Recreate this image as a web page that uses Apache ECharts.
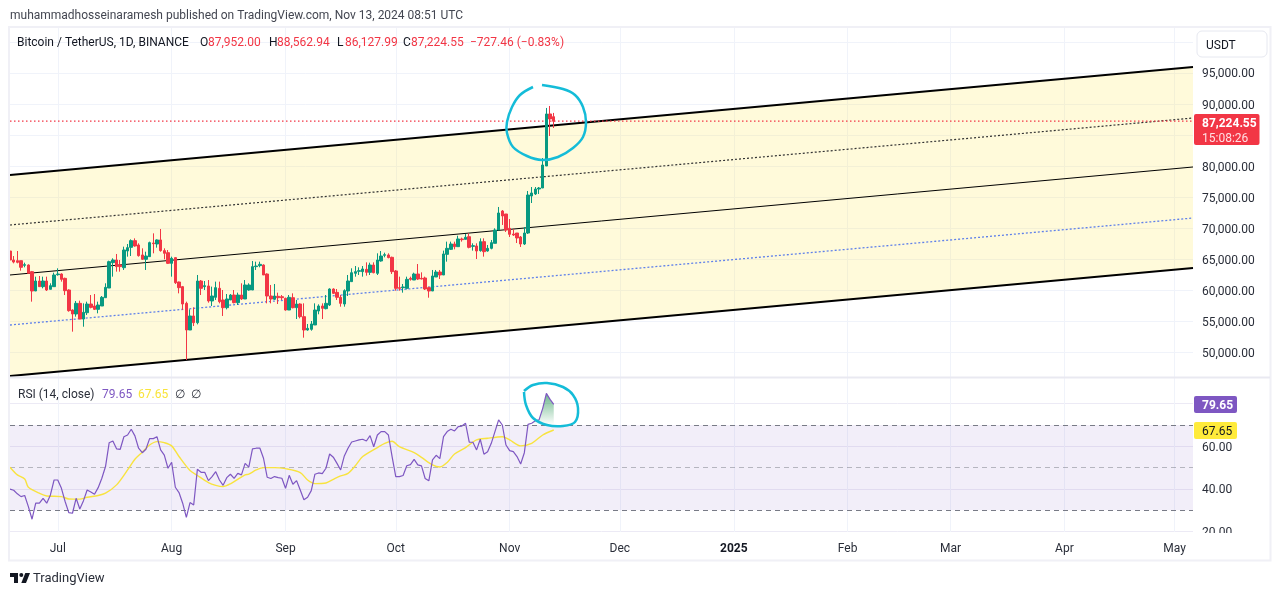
<!DOCTYPE html>
<html><head><meta charset="utf-8">
<style>html,body{margin:0;padding:0;background:#fff}#c{width:1281px;height:596px}</style>
<script src="https://cdn.jsdelivr.net/npm/echarts@6/dist/echarts.min.js"></script>
</head><body><div id="c"></div>
<script>
// ---------- data ----------
const firstDay = '2024-06-18';
const dayCount = 323;
const opens = [66290,64840,64730,64730,63980,64030,62960,59840,61450,60540,
61450,60110,60540,62470,62580,61880,60000,56770,56130,57850,
55320,56340,57740,57420,56880,57420,58760,60320,64410,64840,
64030,63600,66290,66880,67960,67260,65650,64950,65380,67580,
67420,68070,66350,66020,64300,65220,61290,60540,57850,53550,
55810,54730,61450,60540,60650,58230,58820,60270,58390,57150,
58390,59190,57960,59190,58550,60000,60000,63770,63930,64030,
62580,59030,58500,58980,58920,58660,56770,58760,57150,57740,
55700,53550,53660,54360,56610,57420,56990,57580,60160,59620,
58820,57740,59840,61350,62690,63010,62960,63330,62850,64030,
62690,64680,65590,65650,65270,63070,60380,60380,60270,61880,
61610,62580,61880,61940,60380,59840,62100,62900,62420,65750,
66560,67420,66990,68230,68170,68600,67040,67100,66350,67800,
66290,66720,67530,69680,72740,72260,69950,69030,69190,68550,
67420,69190,75160,75490,76290,76450,80000,88390,87952];
const closes = [64840,64510,64460,63660,64090,62690,59840,61450,60540,61450,
60000,60700,62420,62580,61720,59890,56670,56130,57850,55320,
56400,57740,57200,56880,57580,58820,60430,64570,64840,63770,
63770,66450,66830,67960,67100,65540,64950,65480,67640,67470,
68070,66350,65915,64300,65110,61180,60380,57740,53550,55810,
54730,61450,60270,60700,58230,59030,60380,58120,57150,58550,
59190,57960,59190,58550,60810,60810,63770,63870,64140,62420,
59030,58550,59030,58760,58760,56770,58820,57150,57740,55700,
53550,53820,54520,56770,57420,57040,57850,60160,59460,58820,
57850,59890,61450,62790,62960,63120,63390,62850,64030,62790,
64840,65480,65700,65220,62960,60270,60270,60490,61720,61720,
62580,61770,61770,60160,59840,62260,62900,62420,65810,66720,
67420,66990,68230,68120,68500,66880,67150,66290,67800,66180,
66720,67640,69680,72420,71940,69680,68980,68870,68390,67420,
69190,75320,75650,76290,76450,80160,88390,87580,87224.55];
const lows = [64730,64300,64300,63120,63660,62690,58120,59840,60540,60270,
59840,60110,60540,62310,61350,59190,56500,53280,55700,55320,
54080,55970,57040,56770,56240,57420,58760,60320,62150,62960,
62960,63230,65380,65480,66990,65380,64840,63230,65380,65915,
66830,66180,64950,64190,62150,60970,59460,56770,48710,53550,
54190,54460,59190,60000,57960,57420,58390,57850,55810,56880,
58390,57850,57580,58390,58550,59890,60000,63230,63660,62420,
57850,57850,58390,57740,58390,56670,56770,57040,55320,55430,
52310,53440,53440,54360,56080,55320,56880,57420,59350,58390,
57310,57310,59030,61350,62150,62420,62150,62310,62420,62690,
62420,64570,65270,65110,62580,59890,59890,59570,60110,61510,
61610,61610,61720,60000,58760,59840,62100,61770,62420,64570,
66450,66560,66990,67800,68170,66720,66350,65000,66180,65380,
66180,66560,67530,69680,70490,69360,68550,68710,67580,66940,
67260,69030,74030,75320,75490,76450,80000,84840,86127.99];
const highs = [66560,65480,66290,64730,64410,64140,63070,62150,62260,62150,
62150,61080,62790,63500,62690,61990,60110,56880,58230,58280,
57850,58120,59190,59350,58120,59030,61080,64730,65110,65810,
64840,66990,67420,68170,68330,67530,66720,66180,67800,69140,
68170,69840,66720,66450,65380,65270,61350,60650,58120,56880,
57200,62420,61610,61450,61610,60540,61350,61350,60000,59350,
59350,60000,59570,61080,61610,61080,64680,64570,64570,64140,
62690,60810,60970,59570,59190,58760,59190,59460,58390,57850,
57850,54520,55000,57850,57690,57850,59190,60270,60270,60160,
59190,60110,62420,63500,63870,63660,63870,64460,64410,64460,
65915,66290,66020,65915,65380,63230,62150,60970,62150,62150,
62790,64190,62850,62150,60540,63230,63230,63230,66350,67800,
67800,67800,68760,68440,69030,69140,67530,67530,68330,68330,
67260,68070,69950,73390,72900,72260,71450,69840,69190,68710,
70160,75970,76610,76610,76610,81290,89360,89680,88562.94];
const rsi = [39.9,39.4,37.7,36.4,36.9,31.7,25.8,33.3,33.3,35.6,
33.3,37.2,44.2,44.2,40.3,34.1,28.9,28.6,35.6,30.6,
34.5,39.5,38.6,37.5,40.6,45,50.5,61.7,62.5,58.8,
58.6,64.5,65.3,68,64.9,59.1,57,58.6,63.6,63.6,
64.5,58.3,55.9,49.7,52.5,40.8,38.3,33.3,26.7,33.6,
32.5,49.2,47.8,47.8,43.9,45.8,48.1,44.2,41.7,45.3,
46.9,45,47.3,46.6,52,50.2,58.8,59.1,59.2,54.4,
45.5,44.9,45.8,45.3,45,40.3,46.4,42.2,43.9,39.5,
34.9,36.1,39.2,46.9,47.5,47.2,49.7,56.4,54.9,52,
48.9,55.5,59.1,62,62.5,63,63.3,62.5,65,59.8,
65.3,66.9,66.9,65.3,55.2,45.8,45.8,46.3,50.9,51.4,
53.9,51.3,50.8,44.9,43.8,53.6,55.8,54.2,64.5,66.9,
68,67.2,69.2,69.5,70.8,62,61.9,58.3,63.3,56.3,
57.4,61.4,66.9,72.4,70,60.6,58,57.5,55.2,51.7,
57,70.3,70.8,72,72.4,77.8,84.8,82,79.65];
const rsiMaDays = [0,2,4,5,8,10,14,16,19,21,24,26,29,32,34,36,38,40,42,44,46,49,51,54,56,58,60,64,65,67,69,72,75,79,81,83,86,88,90,92,94,96,100,102,104,106,110,112,115,117,119,121,124,127,130,134,136,139,142,145,148];
const rsiMaValues = [50.2,46.6,44.7,40.8,38,36.7,36.4,35.3,35.2,36.1,36.9,38,41.9,48.9,53.9,57.2,60.6,62.2,61.7,60.2,55.2,48.6,46.3,43,41.7,41.1,42.4,46.6,46.9,48.9,50,50,49.5,47.7,44.2,42.5,42.8,44.5,46.1,47.3,50.9,55.2,59.4,61.4,62.4,59.8,57,54.8,51.3,50.3,52.4,56.4,59.4,63,63.8,64.5,63,60.2,61.4,65.3,67.65];
const channelTop = [78550, 95970];
const channelUpperQuarter = [70485, 87740];
const channelMiddle = [62420, 79840];
const channelLowerQuarter = [54355, 71610];
const channelBottom = [46130, 63550];
const lastPrice = 87224.55;
const priceTicks = [50000,55000,60000,65000,70000,75000,80000,85000,90000,95000,100000];
const priceTicksHidden = [85000,100000];
const rsiTicks = [20,40,60,80];
const rsiBands = {upper:70, middle:50, lower:30};
const monthNames = ['Jan','Feb','Mar','Apr','May','Jun','Jul','Aug','Sep','Oct','Nov','Dec'];

// ---------- derived ----------
const categories = [];
{ const t0 = Date.parse(firstDay+'T00:00:00Z');
  for (let i=0;i<dayCount;i++) categories.push(new Date(t0+i*86400000).toISOString().slice(0,10)); }
const lastIdx = dayCount-1;
const isMonthStart = (i)=>categories[i] && categories[i].slice(8)==='01';
const candles = opens.map((o,i)=>[o,closes[i],lows[i],highs[i]]);
const rsiMa = rsi.map(()=>null);
rsiMaDays.forEach((d,i)=>{rsiMa[d]=rsiMaValues[i];});
const endPoints = (pair)=>[[0,pair[0]],[lastIdx,pair[1]]];
// last run of RSI above the upper band
let runStart = rsi.length-1;
while (runStart>0 && rsi[runStart-1]>rsiBands.upper) runStart--;
const obRows = rsi.map((v,i)=>[i,v]).slice(runStart);

const FONT='Roboto, sans-serif';
const channelLine=(name,pair,color,width,type)=>({name,type:'line',data:endPoints(pair),showSymbol:false,silent:true,z:3,
  lineStyle:{color,width,type},xAxisIndex:0,yAxisIndex:0,clip:true});
const xCommon=(grid,showLabel)=>({type:'category',gridIndex:grid,data:categories,boundaryGap:false,
  axisLine:{show:false},axisTick:{show:false},
  splitLine:{show:true,interval:(i)=>isMonthStart(i),lineStyle:{color:'#f0f3fa',width:1}},
  axisLabel:{show:showLabel,interval:(i)=>isMonthStart(i),hideOverlap:false,margin:11,
    fontFamily:FONT,fontSize:12,color:'#2a2e39',
    formatter:(v)=>{const d=new Date(v+'T00:00:00Z');
      return d.getUTCMonth()===0?'{b|'+d.getUTCFullYear()+'}':monthNames[d.getUTCMonth()];},
    rich:{b:{fontWeight:'bold',fontFamily:FONT,fontSize:12,color:'#131722'}}}});
const fmt=(v)=>v.toLocaleString('en-US',{minimumFractionDigits:2,maximumFractionDigits:2});

const txt=(text,x,y,fill,font,extra)=>({type:'text',x,y:y+1.5,z:50,silent:true,
  style:Object.assign({text,fill,font:font||('12px '+FONT),verticalAlign:'middle'},extra||{})});
const box=(x,y,w,h,fill,r)=>({type:'rect',z:40,silent:true,shape:{x,y,width:w,height:h,r:r||0},style:{fill}});
const poly=(points,fill)=>({type:'polygon',z:50,silent:true,shape:{points},style:{fill}});
const RED='#F23645', GREEN='#089981', PURPLE='#7E57C2', YELLOW='#FFEB3B', CYAN='#14bcd8';

const chart = echarts.init(document.getElementById('c'),null,{renderer:'canvas'});
chart.setOption({
  animation:false,backgroundColor:'#fff',
  grid:[{left:10,right:88,top:28,height:349},{left:10,right:88,top:378,height:154}],
  xAxis:[xCommon(0,false),xCommon(1,true)],
  yAxis:[
   {type:'value',gridIndex:0,position:'right',min:45968,max:102258,scale:true,
    axisLine:{show:false},axisTick:{show:false,customValues:priceTicks},
    splitLine:{show:true,lineStyle:{color:'#f0f3fa',width:1}},
    axisLabel:{customValues:priceTicks,margin:9,verticalAlign:'top',lineHeight:3,fontFamily:FONT,fontSize:12,color:'#2a2e39',
      formatter:(v)=>priceTicksHidden.includes(v)?'':fmt(v)}},
   {type:'value',gridIndex:1,position:'right',min:19.8,max:92.04,scale:true,
    axisLine:{show:false},axisTick:{show:false,customValues:rsiTicks},
    splitLine:{show:true,lineStyle:{color:'#eceaf5',width:1}},
    axisLabel:{customValues:rsiTicks,margin:9,verticalAlign:'top',lineHeight:3,fontFamily:FONT,fontSize:12,color:'#2a2e39',
      formatter:(v)=>v===80?'':fmt(v)}}
  ],
  series:[
   {name:'channelFill',type:'custom',xAxisIndex:0,yAxisIndex:0,z:1,silent:true,clip:true,
    data:[[0,lastIdx,channelTop[0],channelTop[1],channelBottom[1],channelBottom[0]]],
    encode:{x:[0,1],y:[2,3,4,5]},
    renderItem:(p,api)=>{
      const a=api.value(0),b=api.value(1);
      return {type:'polygon',shape:{points:[api.coord([a,api.value(2)]),api.coord([b,api.value(3)]),api.coord([b,api.value(4)]),api.coord([a,api.value(5)])]},
        style:{fill:'rgba(255,228,70,0.2)'}};
    }},
   channelLine('top',channelTop,'#000',2,'solid'),
   channelLine('upperQuarter',channelUpperQuarter,'#333',1.2,[2,2]),
   channelLine('middle',channelMiddle,'#000',1,'solid'),
   channelLine('lowerQuarter',channelLowerQuarter,'#5f80ea',1.3,[2,2]),
   channelLine('bottom',channelBottom,'#000',2,'solid'),
   channelLine('lastPrice',[lastPrice,lastPrice],RED,1.2,[1.5,2.5]),
   {name:'price',type:'candlestick',xAxisIndex:0,yAxisIndex:0,z:5,silent:true,clip:true,barWidth:3,
    data:candles,itemStyle:{color:GREEN,color0:RED,borderColor:GREEN,borderColor0:RED,borderWidth:1}},
   {name:'rsi',type:'line',xAxisIndex:1,yAxisIndex:1,data:rsi,showSymbol:false,silent:true,z:6,
    lineStyle:{color:PURPLE,width:1.2},
    markArea:{silent:true,itemStyle:{color:'rgba(126,87,194,0.1)'},data:[[{yAxis:rsiBands.lower},{yAxis:rsiBands.upper}]]},
    markLine:{silent:true,symbol:'none',label:{show:false},data:[
      {yAxis:rsiBands.upper,lineStyle:{color:'#787B86',type:[5,4],width:1}},
      {yAxis:rsiBands.middle,lineStyle:{color:'rgba(120,123,134,0.5)',type:[5,4],width:1}},
      {yAxis:rsiBands.lower,lineStyle:{color:'#787B86',type:[5,4],width:1}}]}},
   {name:'rsiMa',type:'line',xAxisIndex:1,yAxisIndex:1,data:rsiMa,connectNulls:true,showSymbol:false,silent:true,z:5,smooth:0.3,
    lineStyle:{color:'#F8E33F',width:1.4}},
   {name:'overbought',type:'custom',xAxisIndex:1,yAxisIndex:1,z:4,silent:true,
    data:[[obRows[0][0],obRows[obRows.length-1][0]]],encode:{x:[0,1]},
    renderItem:(p,api)=>{
      const pts=obRows.map(r=>api.coord(r));
      pts.push(api.coord([obRows[obRows.length-1][0],rsiBands.upper]));
      pts.push(api.coord([obRows[0][0],rsiBands.upper]));
      return {type:'polygon',shape:{points:pts},style:{fill:new echarts.graphic.LinearGradient(0,0,0,1,[
        {offset:0,color:'rgba(10,135,60,0.6)'},{offset:1,color:'rgba(10,135,60,0)'}])}};
    }}
  ],
  graphic:{elements:[
    // frame
    {type:'rect',z:30,silent:true,shape:{x:9,y:27,width:1261.5,height:533.5},style:{fill:'transparent',stroke:'#f0f0f6',lineWidth:2}},
    {type:'line',z:30,silent:true,shape:{x1:10,y1:377.5,x2:1270,y2:377.5},style:{stroke:'#e9e9f1',lineWidth:2}},
    // clip of the lowest RSI label
    box(1196,533,72,9,'#fff'),
    // header
    txt('muhammadhosseinaramesh published on TradingView.com, Nov 13, 2024 08:51 UTC',10,14,'#434651'),
    txt('Bitcoin / TetherUS, 1D, BINANCE',17,41,'#131722'),
    txt('O',200,41,'#131722'),txt('87,952.00',208,41,RED),
    txt('H',269,41,'#131722'),txt('88,562.94',277,41,RED),
    txt('L',337,41,'#131722'),txt('86,127.99',345,41,RED),
    txt('C',403,41,'#131722'),txt('87,224.55',411,41,RED),
    txt('\u2212727.46 (\u22120.83%)',470,41,RED),
    // currency button
    {type:'rect',z:40,silent:true,shape:{x:1197,y:31,width:70,height:26,r:5},style:{fill:'#fff',stroke:'#e6e8f0',lineWidth:1}},
    txt('USDT',1206,44,'#131722'),
    // price tag
    box(1194,114,65.5,31,RED,2),
    txt('87,224.55',1202,122,'#fff','bold 12px '+FONT),
    txt('15:08:26',1202,137,'#ffdfe3'),
    // RSI legend and tags
    txt('RSI (14, close)',18,393,'#2a2e39'),txt('79.65',102,393,PURPLE),txt('67.65',138,393,'#F9E43A'),
    txt('\u2205',175,393,'#2a2e39'),txt('\u2205',191,393,'#2a2e39'),
    box(1194,396,43,17,PURPLE,2),txt('79.65',1202,404.5,'#fff','bold 12px '+FONT),
    box(1194,422,43,17,YELLOW,2),txt('67.65',1202,430.5,'#131722'),
    // hand-drawn circles
    {type:'polyline',z:45,silent:true,shape:{smooth:0.35,points:[[533,87],[520,95],[512,107],[507,122],[507,133],[513,147],[527,156],[542,160],[558,157],[573,148],[583,137],[586,122],[583,107],[575,95],[563,89],[542,85]]},style:{stroke:CYAN,lineWidth:2.5,fill:'none'}},
    {type:'polyline',z:45,silent:true,shape:{smooth:0.35,points:[[524,391],[533,385],[547,383],[563,387],[573,395],[578,408],[575,422],[563,426],[547,425],[533,418],[526,405],[524,392]]},style:{stroke:CYAN,lineWidth:2.5,fill:'none'}},
    // logo
    poly([[10,573],[18,573],[18,583],[14,583],[14,577],[10,577]],'#131722'),
    poly([[26,583],[21.3,583],[25.3,573],[30,573]],'#131722'),
    {type:'circle',z:50,silent:true,shape:{cx:21.3,cy:575,r:2},style:{fill:'#131722'}},
    txt('TradingView',33,577,'#2a2e39','13px '+FONT)
  ]}
});
</script></body></html>
